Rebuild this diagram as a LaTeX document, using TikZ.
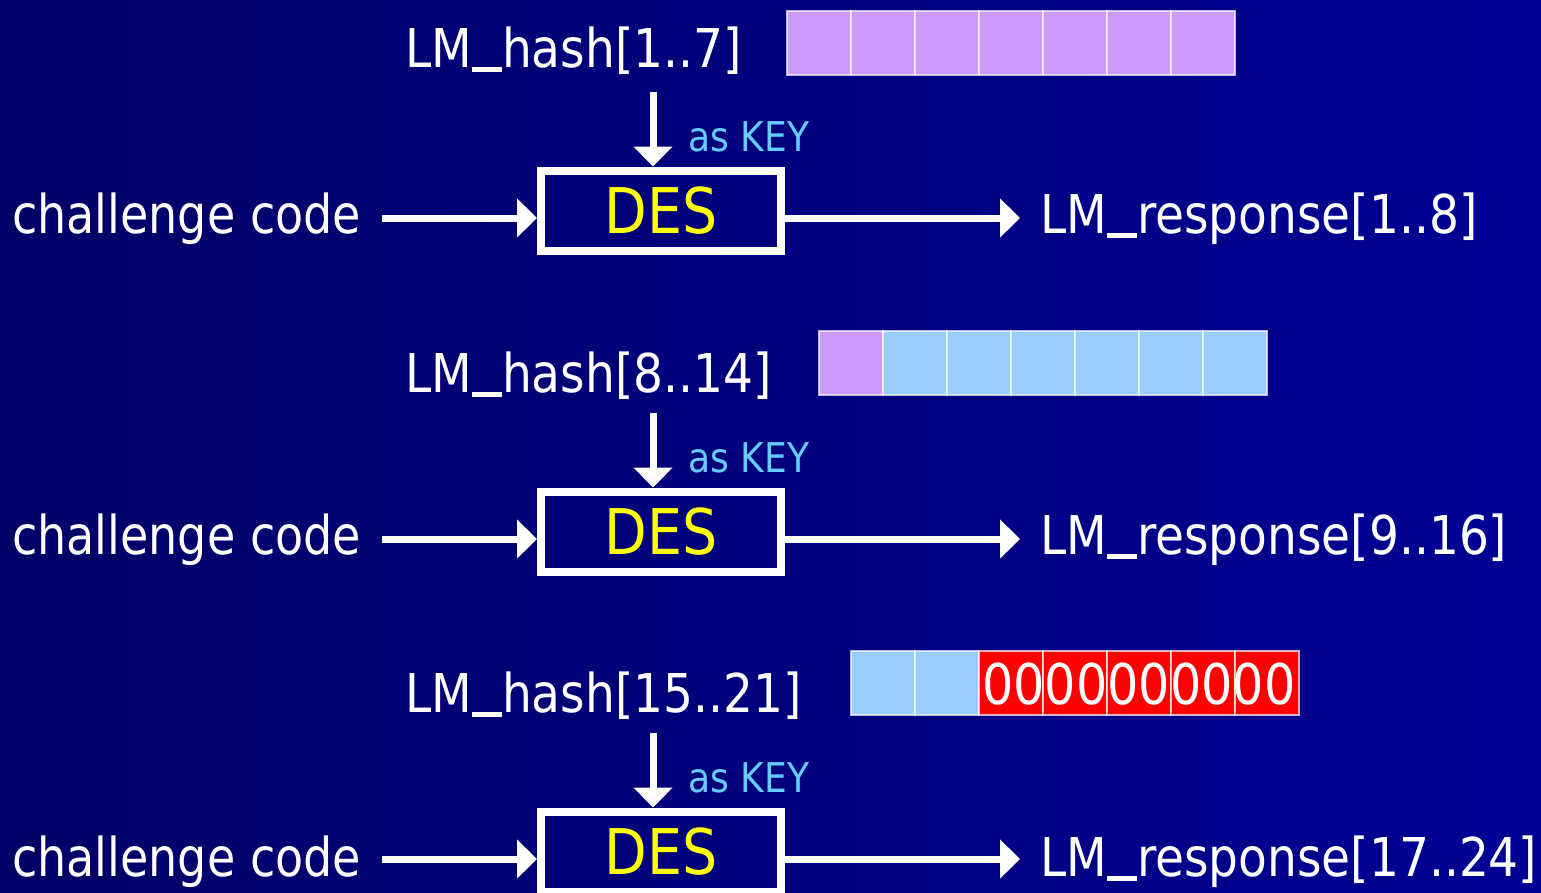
\documentclass[tikz,border=0pt]{standalone}
\usepackage{fontspec}
\setmainfont[FakeStretch=0.88]{DejaVu Sans}
\newfontfamily\narrowfont[FakeStretch=0.86]{DejaVu Sans}
\usetikzlibrary{arrows.meta}
\definecolor{bgL}{RGB}{0,0,102}
\definecolor{bgR}{RGB}{0,0,148}
\definecolor{keyblue}{HTML}{66CCFF}
\definecolor{cellpurple}{HTML}{CC99FF}
\definecolor{cellblue}{HTML}{99CCFF}
\definecolor{cellred}{HTML}{FF0000}
\definecolor{desyellow}{HTML}{FFFF00}
% flat underscore sitting just under the baseline
\newcommand\lowbar{\rule[-0.1em]{0.56em}{0.095em}}
\tikzset{
  lbl/.style={text=white, anchor=base west, inner sep=0pt, font=\fontsize{53.5}{60}\selectfont},
  keylbl/.style={text=keyblue, anchor=base west, inner sep=0pt, font=\fontsize{41}{48}\selectfont},
  desbox/.style={draw=white, line width=8pt, minimum width=240pt, minimum height=80pt,
    inner sep=0pt, text=desyellow, font=\fontsize{63}{70}\selectfont,
    text height=46pt, text depth=0pt},
  arr/.style={draw=white, line width=7pt, -{Triangle[width=38pt,length=20pt]}},
  cell/.style={draw=white, draw opacity=0.7, line width=1.5pt, minimum width=64pt,
    minimum height=64pt, inner sep=0pt, outer sep=0pt, anchor=north west},
  zeros/.style={text=white, inner sep=0pt, font=\fontsize{56}{60}\selectfont,
    text height=40pt, text depth=0pt}
}
\begin{document}
\begin{tikzpicture}[x=1pt,y=-1pt]
\useasboundingbox (0,0) rectangle (1541,892);
\shade[left color=bgL, right color=bgR] (0,0) rectangle (1541,892);

% ---- byte strips -------------------------------------------------------
\foreach \i in {0,...,6}
  \node[cell, fill=cellpurple] (ca\i) at (787+64*\i,11) {};
\foreach \i in {0,...,6}{
  \ifnum\i=0 \def\cc{cellpurple}\else\def\cc{cellblue}\fi
  \node[cell, fill=\cc] (cb\i) at (819+64*\i,331) {};
}
\foreach \i in {0,...,6}{
  \ifnum\i<2 \def\cc{cellblue}\else\def\cc{cellred}\fi
  \node[cell, fill=\cc] (cc\i) at (851+64*\i,651) {};
}
\node[zeros] (pad) at (1139,684) {0000000000};

% ---- round 1 -----------------------------------------------------------
\node[lbl] (hash1) at (405,67) {LM\lowbar hash[1..7]};
\node[desbox] (des1) at (661,210.5) {DES};
\node[keylbl] (key1) at (688,151) {as KEY};
\node[lbl] (chal1) at (12,233) {\narrowfont challenge code};
\node[lbl] (resp1) at (1040,233) {LM\lowbar response[1..8]};
\coordinate (k1) at (653,92);
\coordinate (a1) at (382,218);
\coordinate (b1) at (1020,218);
\draw[arr] (k1) -- (k1 |- des1.north);
\draw[arr] (a1) -- (a1 -| des1.west);
\draw[arr] (des1.east |- a1) -- (b1);

% ---- round 2 -----------------------------------------------------------
\node[lbl] (hash2) at (405,392) {LM\lowbar hash[8..14]};
\node[desbox] (des2) at (661,531.5) {DES};
\node[keylbl] (key2) at (688,472) {as KEY};
\node[lbl] (chal2) at (12,554) {\narrowfont challenge code};
\node[lbl] (resp2) at (1040,554) {LM\lowbar response[9..16]};
\coordinate (k2) at (653,413);
\coordinate (a2) at (382,539);
\coordinate (b2) at (1020,539);
\draw[arr] (k2) -- (k2 |- des2.north);
\draw[arr] (a2) -- (a2 -| des2.west);
\draw[arr] (des2.east |- a2) -- (b2);

% ---- round 3 -----------------------------------------------------------
\node[lbl] (hash3) at (405,712) {LM\lowbar hash[15..21]};
\node[desbox] (des3) at (661,851.5) {DES};
\node[keylbl] (key3) at (688,792) {as KEY};
\node[lbl] (chal3) at (12,876) {\narrowfont challenge code};
\node[lbl] (resp3) at (1040,876) {LM\lowbar response[17..24]};
\coordinate (k3) at (653,733);
\coordinate (a3) at (382,859);
\coordinate (b3) at (1020,859);
\draw[arr] (k3) -- (k3 |- des3.north);
\draw[arr] (a3) -- (a3 -| des3.west);
\draw[arr] (des3.east |- a3) -- (b3);
\end{tikzpicture}
\end{document}
